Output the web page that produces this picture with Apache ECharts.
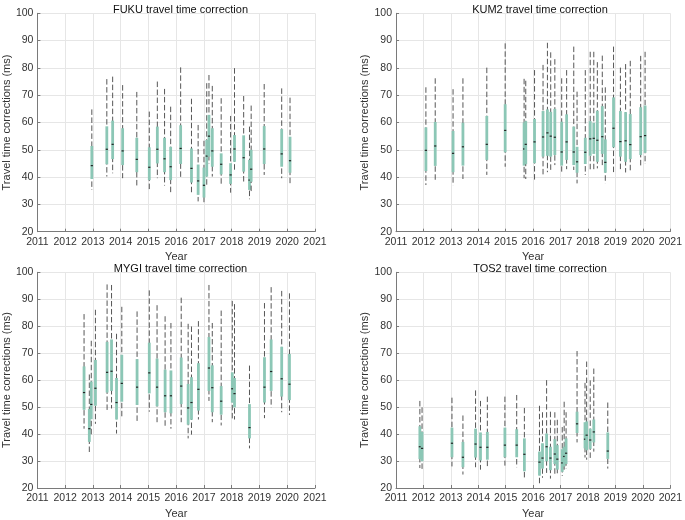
<!DOCTYPE html>
<html>
<head>
<meta charset="utf-8">
<script src="https://cdn.jsdelivr.net/npm/echarts@6/dist/echarts.min.js"></script>
<style>html,body{margin:0;padding:0;background:#fff}#c{width:685px;height:520px}</style>
</head>
<body>
<div id="c"></div>
<script>
// rows: [decimal year, min, q1, median, q3, max]  (ms)
const stations = ['FUKU', 'KUM2', 'MYGI', 'TOS2'];
const yearTicks = [2011, 2012, 2013, 2014, 2015, 2016, 2017, 2018, 2019, 2020, 2021];

const fuku = [
  [2012.96, 35.3, 39.3, 44.2, 51.4, 64.8],
  [2013.50, 40.2, 44.7, 50.2, 58.6, 75.9],
  [2013.71, 41.4, 46.6, 52.0, 60.7, 76.8],
  [2014.07, 39.6, 44.4, 49.6, 57.9, 73.7],
  [2014.58, 36.5, 41.8, 46.5, 54.4, 71.2],
  [2015.03, 34.7, 38.9, 43.6, 50.9, 64.0],
  [2015.32, 39.6, 45.0, 50.2, 58.5, 75.0],
  [2015.58, 36.9, 41.8, 46.7, 54.4, 72.3],
  [2015.80, 34.4, 38.9, 43.8, 51.1, 65.8],
  [2016.16, 39.8, 44.8, 50.5, 59.0, 80.2],
  [2016.55, 34.0, 38.0, 43.2, 50.5, 68.7],
  [2016.79, 31.1, 33.5, 38.6, 44.6, 59.1],
  [2017.00, 30.8, 32.5, 37.0, 43.5, 53.3],
  [2017.10, 36.5, 40.2, 47.7, 53.6, 74.4],
  [2017.18, 45.0, 47.5, 55.0, 62.8, 77.4],
  [2017.30, 40.2, 43.8, 49.6, 57.9, 73.4],
  [2017.62, 37.4, 41.0, 44.7, 48.7, 68.9],
  [2017.96, 34.3, 37.5, 40.8, 45.1, 62.4],
  [2018.10, 41.8, 45.6, 50.3, 55.4, 79.9],
  [2018.43, 38.3, 42.0, 47.1, 55.3, 69.7],
  [2018.64, 31.9, 35.3, 38.9, 46.3, 58.5],
  [2018.70, 34.7, 38.3, 42.9, 50.0, 66.2],
  [2019.17, 40.8, 44.8, 50.3, 58.7, 74.1],
  [2019.80, 39.6, 43.8, 48.5, 57.6, 72.5],
  [2020.10, 37.7, 41.6, 46.0, 54.8, 69.1]
];

const kum2 = [
  [2012.09, 37.1, 42.2, 49.8, 58.2, 72.9],
  [2012.43, 38.3, 44.1, 51.4, 60.2, 76.2],
  [2013.08, 37.0, 41.8, 48.7, 56.9, 72.2],
  [2013.44, 39.3, 44.2, 51.1, 59.9, 76.2],
  [2014.31, 40.8, 46.3, 52.0, 62.4, 80.1],
  [2014.98, 43.8, 49.1, 57.1, 66.7, 89.0],
  [2015.67, 39.6, 44.2, 50.3, 60.0, 76.0],
  [2015.73, 39.3, 44.7, 52.0, 60.5, 75.3],
  [2016.05, 39.0, 45.1, 52.9, 61.3, 79.2],
  [2016.36, 41.0, 47.5, 54.7, 64.2, 81.1],
  [2016.52, 41.8, 47.8, 56.2, 64.8, 89.2],
  [2016.64, 41.8, 47.5, 55.0, 63.9, 85.7],
  [2016.79, 44.4, 48.1, 54.6, 65.0, 83.2],
  [2017.04, 42.0, 44.2, 49.2, 60.3, 76.2],
  [2017.22, 42.9, 46.3, 52.9, 63.0, 79.2],
  [2017.48, 42.6, 44.4, 49.2, 58.5, 87.8],
  [2017.60, 37.7, 41.6, 45.6, 51.1, 71.3],
  [2017.90, 40.8, 44.8, 49.1, 54.4, 79.2],
  [2018.08, 42.0, 47.8, 54.0, 60.5, 85.9],
  [2018.21, 42.9, 48.5, 54.2, 59.9, 85.9],
  [2018.34, 43.2, 45.6, 53.5, 64.3, 82.1],
  [2018.52, 43.8, 48.5, 54.8, 66.0, 84.5],
  [2018.63, 37.7, 41.6, 45.4, 53.8, 72.9],
  [2018.93, 41.8, 50.9, 57.9, 69.2, 87.8],
  [2019.18, 42.4, 47.5, 53.0, 64.2, 80.1],
  [2019.37, 41.7, 45.6, 53.3, 63.8, 81.4],
  [2019.54, 42.0, 46.6, 51.9, 63.1, 82.6],
  [2019.92, 43.8, 48.1, 54.8, 65.6, 84.4],
  [2020.08, 44.8, 48.9, 55.2, 66.2, 85.9]
];

const mygi = [
  [2012.68, 42.0, 49.0, 55.4, 65.1, 84.5],
  [2012.87, 32.9, 37.1, 42.0, 49.3, 62.1],
  [2012.94, 39.6, 45.5, 51.0, 59.5, 74.6],
  [2013.09, 43.8, 50.5, 57.0, 67.5, 86.1],
  [2013.51, 48.1, 55.4, 62.9, 74.2, 95.5],
  [2013.67, 49.5, 56.0, 63.3, 75.1, 95.3],
  [2013.85, 40.2, 45.4, 51.7, 60.8, 77.2],
  [2014.04, 45.9, 52.0, 58.8, 69.4, 87.2],
  [2014.59, 44.8, 50.8, 57.4, 67.8, 85.5],
  [2015.03, 48.3, 55.1, 62.7, 73.9, 93.3],
  [2015.31, 44.4, 50.3, 57.4, 68.0, 87.8],
  [2015.60, 42.2, 48.1, 54.2, 63.9, 83.7],
  [2015.81, 42.0, 47.7, 54.2, 63.6, 81.2],
  [2016.18, 44.4, 51.1, 57.8, 68.4, 90.6],
  [2016.43, 38.4, 43.5, 49.7, 58.6, 80.9],
  [2016.55, 39.8, 45.3, 51.7, 61.1, 79.9],
  [2016.80, 45.4, 48.7, 56.6, 66.3, 81.9],
  [2017.18, 52.3, 56.0, 64.5, 76.0, 95.3],
  [2017.30, 44.4, 48.1, 57.2, 65.5, 81.2],
  [2017.62, 43.2, 47.2, 52.2, 57.8, 85.8],
  [2018.02, 45.7, 51.7, 56.8, 62.9, 89.4],
  [2018.10, 45.4, 49.9, 55.0, 60.8, 88.2],
  [2018.64, 34.7, 38.4, 42.4, 51.1, 65.4],
  [2019.18, 45.9, 51.7, 57.4, 68.5, 88.6],
  [2019.42, 49.9, 56.0, 63.2, 75.1, 94.5],
  [2019.80, 48.1, 53.9, 60.5, 72.4, 93.1],
  [2020.08, 47.1, 52.6, 58.5, 69.7, 92.2]
];

const tos2 = [
  [2011.87, 27.4, 30.7, 35.3, 42.9, 52.3],
  [2011.95, 26.8, 29.9, 34.7, 40.8, 49.9],
  [2013.04, 28.0, 31.4, 36.6, 42.4, 53.5],
  [2013.44, 25.0, 27.7, 31.4, 37.1, 46.9],
  [2013.90, 27.7, 31.3, 36.3, 42.0, 56.2],
  [2014.08, 26.8, 30.2, 35.1, 40.6, 52.3],
  [2014.33, 27.2, 30.5, 35.1, 40.8, 53.9],
  [2014.97, 28.3, 31.4, 35.9, 42.4, 53.9],
  [2015.40, 27.7, 31.4, 35.9, 41.8, 54.5],
  [2015.68, 23.8, 26.2, 32.5, 38.4, 49.7],
  [2016.23, 21.3, 24.6, 29.6, 33.5, 50.5],
  [2016.34, 23.8, 27.2, 31.1, 36.6, 48.1],
  [2016.49, 25.6, 29.9, 35.3, 40.2, 60.0],
  [2016.63, 23.5, 26.6, 31.1, 35.3, 48.3],
  [2016.79, 25.0, 28.9, 32.6, 38.1, 48.1],
  [2016.88, 24.6, 26.8, 30.7, 35.9, 45.3],
  [2017.06, 24.5, 26.0, 29.3, 34.4, 42.6],
  [2017.13, 26.8, 28.0, 31.7, 35.3, 52.0],
  [2017.20, 27.2, 28.9, 32.9, 38.4, 48.1],
  [2017.60, 36.9, 40.4, 43.8, 48.3, 70.8],
  [2017.89, 31.3, 34.7, 38.1, 44.4, 59.0],
  [2017.95, 30.5, 34.0, 39.6, 44.7, 66.9],
  [2018.08, 31.1, 34.5, 37.8, 42.0, 59.9],
  [2018.21, 33.5, 36.9, 40.8, 45.4, 64.3],
  [2018.72, 27.2, 30.8, 33.7, 40.6, 51.7]
];

const allData = [fuku, kum2, mygi, tos2];

const FONT = 'Liberation Sans, Arial, Helvetica, sans-serif';
const grids = [
  {left: 36, top: 13.3, width: 279, height: 218.4},
  {left: 396, top: 13.3, width: 278, height: 218.4},
  {left: 36, top: 272.3, width: 279, height: 219.4},
  {left: 396, top: 272.3, width: 278, height: 219.4}
];

function renderItem(params, api) {
  const x = api.value(0);
  const pMin = api.coord([x, api.value(1)]);
  const pQ1 = api.coord([x, api.value(2)]);
  const pMed = api.coord([x, api.value(3)]);
  const pQ3 = api.coord([x, api.value(4)]);
  const pMax = api.coord([x, api.value(5)]);
  return {
    type: 'group',
    children: [
      {type: 'line', shape: {x1: pMax[0], y1: pMax[1], x2: pMin[0], y2: pMin[1]},
       style: {stroke: '#3a3a3a', lineWidth: 1, lineDash: [5.5, 2.5], opacity: 0.85}},
      {type: 'rect', shape: {x: pQ3[0] - 1.4, y: pQ3[1], width: 2.8, height: pQ1[1] - pQ3[1]},
       style: {fill: '#8cc7b6'}},
      {type: 'line', shape: {x1: pMed[0] - 1.1, y1: pMed[1], x2: pMed[0] + 1.1, y2: pMed[1]},
       style: {stroke: '#222', lineWidth: 1.2}}
    ]
  };
}

const option = {
  animation: false,
  backgroundColor: '#fff',
  title: stations.map((s, i) => ({
    text: s + ' travel time correction',
    left: grids[i].left + grids[i].width / 2,
    top: i < 2 ? -1 : 258,
    textAlign: 'center',
    textStyle: {fontFamily: FONT, fontSize: 11, fontWeight: 'normal', color: '#111'}
  })),
  grid: grids.map(g => Object.assign({containLabel: false}, g)),
  xAxis: grids.map((g, i) => ({
    type: 'value', gridIndex: i, min: yearTicks[0], max: yearTicks[yearTicks.length - 1], interval: 1,
    name: 'Year', nameLocation: 'middle', nameGap: 20,
    nameTextStyle: {fontFamily: FONT, fontSize: 11, color: '#333'},
    axisLine: {show: true, lineStyle: {color: '#7a7a7a', width: 1}},
    axisTick: {show: true, inside: true, length: 3, lineStyle: {color: '#7a7a7a'}},
    axisLabel: {fontFamily: FONT, fontSize: 10.5, color: '#333', margin: 5, formatter: v => String(v)},
    splitLine: {show: true, lineStyle: {color: '#e6e6e6', width: 1}}
  })),
  yAxis: grids.map((g, i) => ({
    type: 'value', gridIndex: i, min: 20, max: 100, interval: 10,
    name: 'Travel time corrections (ms)', nameLocation: 'middle', nameGap: 25,
    nameTextStyle: {fontFamily: FONT, fontSize: 11, color: '#333'},
    axisLine: {show: true, lineStyle: {color: '#7a7a7a', width: 1}},
    axisTick: {show: true, inside: true, length: 3, lineStyle: {color: '#7a7a7a'}},
    axisLabel: {fontFamily: FONT, fontSize: 10.5, color: '#333', margin: 4},
    splitLine: {show: true, lineStyle: {color: '#e6e6e6', width: 1}}
  })),
  series: allData.map((d, i) => ({
    type: 'custom', xAxisIndex: i, yAxisIndex: i,
    renderItem: renderItem,
    encode: {x: 0, y: [1, 2, 3, 4, 5]},
    data: d,
    clip: false
  }))
};

const chart = echarts.init(document.getElementById('c'), null, {renderer: 'canvas'});
chart.setOption(option);
</script>
</body>
</html>
